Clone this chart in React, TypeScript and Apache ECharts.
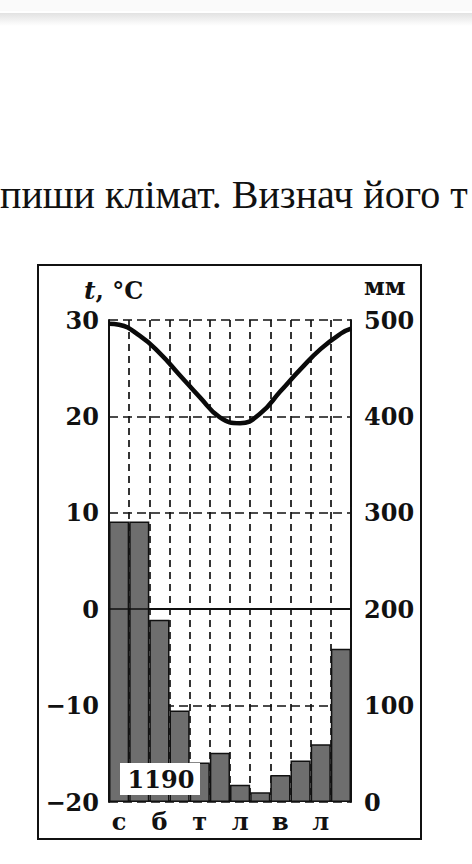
import React, { useEffect, useRef } from "react";
import * as echarts from "echarts";

// Month initials (Ukrainian): січень, лютий, березень, ... грудень
const months = ["с", "л", "б", "к", "т", "ч", "л", "с", "в", "ж", "л", "г"];
// Monthly precipitation, mm (right axis)
const precipitation = [291, 291, 189, 95, 41, 51, 18, 10, 28, 43, 60, 159];
// Monthly mean temperature, °C (left axis), at month centres
const temperature = [29.5, 28.4, 26.6, 24.3, 22.0, 19.9, 19.3, 20.3, 22.6, 24.9, 27.0, 28.6];
// Temperature read at the start of January and the end of December
const tempYearStart = 29.6;
const tempYearEnd = 29.1;
const totalPrecip = "1190";
const tempTicks = { min: -20, max: 30, interval: 10 };
const precipTicks = { min: 0, max: 500, interval: 100 };
const headerText = "пиши клімат. Визнач його т";

const SERIF = "'DejaVu Serif', serif";

export default function App() {
  const ref = useRef<HTMLDivElement>(null);
  useEffect(() => {
    if (!ref.current) return;
    const chart = echarts.init(ref.current, null, { renderer: "svg" });

    const lineData: number[][] = [[0, tempYearStart]];
    temperature.forEach((t, i) => lineData.push([i + 0.5, t]));
    lineData.push([months.length, tempYearEnd]);

    const axisLabelStyle = {
      fontFamily: SERIF,
      fontWeight: "bold" as const,
      fontSize: 24,
      color: "#111",
    };

    chart.setOption({
      animation: false,
      backgroundColor: "#ffffff",
      grid: { left: 109, right: 121, top: 320, bottom: 62, containLabel: false },
      xAxis: [
        {
          type: "category",
          data: months,
          boundaryGap: true,
          axisTick: { show: false },
          axisLine: { show: true, lineStyle: { color: "#111", width: 2 } },
          axisLabel: { ...axisLabelStyle, interval: 1, margin: 7 },
          splitLine: {
            show: true,
            interval: 0,
            lineStyle: { color: "#111", width: 1.7, type: [7, 5] },
          },
        },
        {
          type: "value",
          min: 0,
          max: months.length,
          show: false,
          splitLine: { show: false },
        },
      ],
      yAxis: [
        {
          type: "value",
          min: tempTicks.min,
          max: tempTicks.max,
          interval: tempTicks.interval,
          position: "left",
          axisLine: { show: true, lineStyle: { color: "#111", width: 2 } },
          axisTick: { show: false },
          axisLabel: {
            ...axisLabelStyle,
            margin: 10,
            formatter: (v: number) => (v < 0 ? "−" + Math.abs(v) : String(v)),
          },
          splitLine: {
            show: true,
            lineStyle: { color: "#111", width: 1.7, type: [9, 5] },
          },
        },
        {
          type: "value",
          min: precipTicks.min,
          max: precipTicks.max,
          interval: precipTicks.interval,
          position: "right",
          axisLine: { show: true, lineStyle: { color: "#111", width: 2 } },
          axisTick: { show: false },
          axisLabel: { ...axisLabelStyle, margin: 13 },
          splitLine: { show: false },
        },
      ],
      series: [
        {
          type: "bar",
          data: precipitation,
          xAxisIndex: 0,
          yAxisIndex: 1,
          barCategoryGap: "0%",
          itemStyle: { color: "#6e6e6e", borderColor: "#111", borderWidth: 1.5 },
          z: 2,
        },
        {
          type: "line",
          data: lineData,
          xAxisIndex: 1,
          yAxisIndex: 0,
          smooth: 0.5,
          symbol: "none",
          lineStyle: { color: "#0a0a0a", width: 4.5 },
          z: 4,
          markLine: {
            silent: true,
            symbol: "none",
            label: { show: false },
            lineStyle: { color: "#111", width: 1.6, type: "solid" },
            data: [{ yAxis: 0 }],
          },
        },
      ],
      graphic: [
        { type: "rect", shape: { x: 0, y: 0, width: 472, height: 11 }, style: { fill: "#fafafa" }, silent: true },
        {
          type: "rect",
          shape: { x: 0, y: 13, width: 472, height: 13 },
          style: {
            fill: new echarts.graphic.LinearGradient(0, 0, 0, 1, [
              { offset: 0, color: "#e2e2e2" },
              { offset: 1, color: "#ffffff" },
            ]),
          },
          silent: true,
        },
        {
          type: "text",
          x: 0,
          y: 194,
          style: {
            text: headerText,
            font: "40px 'Liberation Serif', 'Times New Roman', serif",
            fill: "#111",
            verticalAlign: "middle",
            align: "left",
          },
        },
        {
          type: "rect",
          shape: { x: 38, y: 265, width: 383, height: 574 },
          style: { fill: "none", stroke: "#111", lineWidth: 2 },
          silent: true,
        },
        {
          type: "text",
          x: 84,
          y: 290,
          style: {
            text: "{i|t}{b|, °C}",
            verticalAlign: "middle",
            rich: {
              i: { fontFamily: SERIF, fontStyle: "italic", fontWeight: "bold", fontSize: 25, fill: "#111" },
              b: { fontFamily: SERIF, fontWeight: "bold", fontSize: 24, fill: "#111" },
            },
          },
        },
        {
          type: "text",
          x: 364,
          y: 286,
          style: {
            text: "мм",
            font: "bold 24px 'DejaVu Serif', serif",
            fill: "#111",
            verticalAlign: "middle",
          },
        },
        {
          type: "rect",
          shape: { x: 120, y: 763, width: 80, height: 32 },
          style: { fill: "#ffffff" },
          z: 100,
        },
        {
          type: "text",
          x: 161,
          y: 779,
          z: 101,
          style: {
            text: totalPrecip,
            font: "bold 24px 'DejaVu Serif', serif",
            fill: "#111",
            align: "center",
            verticalAlign: "middle",
          },
        },
      ],
    });
    return () => chart.dispose();
  }, []);
  return (
    <div
      ref={ref}
      style={{ position: "absolute", left: 0, top: 0, width: 472, height: 864 }}
    />
  );
}
